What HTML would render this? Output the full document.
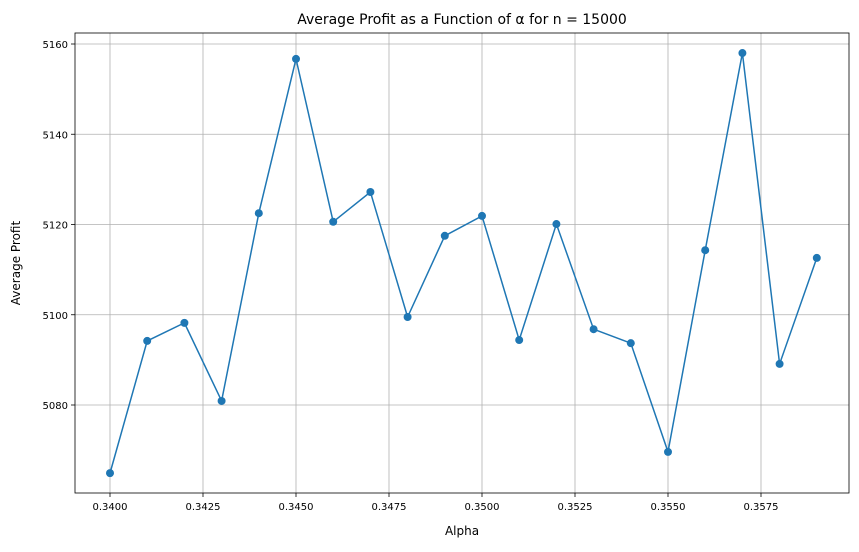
<!DOCTYPE html>
<html><head><meta charset="utf-8"><style>
body{margin:0;background:#fff;width:859px;height:547px;overflow:hidden;font-family:"Liberation Sans","DejaVu Sans",sans-serif;}
svg text{font-family:"DejaVu Sans","Liberation Sans",sans-serif;}
</style></head><body>
<svg id="chart" width="859" height="547" xmlns="http://www.w3.org/2000/svg">
<text x="462" y="24" font-size="14" text-anchor="middle">Average Profit as a Function of α for n = 15000</text>
<text x="462" y="535" font-size="12" text-anchor="middle">Alpha</text>
<text x="20" y="263" font-size="12" text-anchor="middle" transform="rotate(-90 20 263)">Average Profit</text>
<g id="grid"></g><g id="axes"></g><g id="series"></g>
<rect x="75" y="33" width="774" height="460" fill="none" stroke="#000" stroke-width="0.8"/>
</svg>
<script>
const alphas=[0.340,0.341,0.342,0.343,0.344,0.345,0.346,0.347,0.348,0.349,0.350,0.351,0.352,0.353,0.354,0.355,0.356,0.357,0.358,0.359];
const profits=[5064.9,5094.2,5098.2,5080.9,5122.5,5156.7,5120.6,5127.2,5099.5,5117.5,5121.9,5094.4,5120.1,5096.8,5093.7,5069.6,5114.3,5158.0,5089.1,5112.6];
const xTicks=[0.3400,0.3425,0.3450,0.3475,0.3500,0.3525,0.3550,0.3575];
const yTicks=[5080,5100,5120,5140,5160];
const NS="http://www.w3.org/2000/svg";
const L=75,R=849,T=33,B=493;
const sx=v=>110+(v-0.34)*37200;
const sy=v=>44+(5160-v)*4.5125;
const grid=document.getElementById('grid'),axes=document.getElementById('axes'),ser=document.getElementById('series');
function mk(t,a,p){const e=document.createElementNS(NS,t);for(const k in a)e.setAttribute(k,a[k]);p.appendChild(e);return e;}
xTicks.forEach(v=>{const x=sx(v);
const g=mk('line',{x1:x,x2:x,y1:T,y2:B,stroke:'#b0b0b0','stroke-width':0.8},grid);


mk('line',{x1:x,x2:x,y1:B,y2:B+4,stroke:'#000','stroke-width':0.8},axes);
const t=mk('text',{x:x,y:B+17,'font-size':10,'text-anchor':'middle'},axes);t.textContent=v.toFixed(4);

});
yTicks.forEach(v=>{const y=sy(v);
const g=mk('line',{x1:L,x2:R,y1:y,y2:y,stroke:'#b0b0b0','stroke-width':0.8},grid);


mk('line',{x1:L-4,x2:L,y1:y,y2:y,stroke:'#000','stroke-width':0.8},axes);
const t=mk('text',{x:L-7,y:y+4,'font-size':10,'text-anchor':'end'},axes);t.textContent=v;

});
const pts=alphas.map((a,i)=>sx(a)+','+sy(profits[i])).join(' ');
const pl=mk('polyline',{points:pts,fill:'none',stroke:'#1f77b4','stroke-width':1.5},ser);


alphas.forEach((a,i)=>{const c=mk('circle',{cx:sx(a),cy:sy(profits[i]),r:4,fill:'#1f77b4'},ser);

});
</script>
</body></html>
